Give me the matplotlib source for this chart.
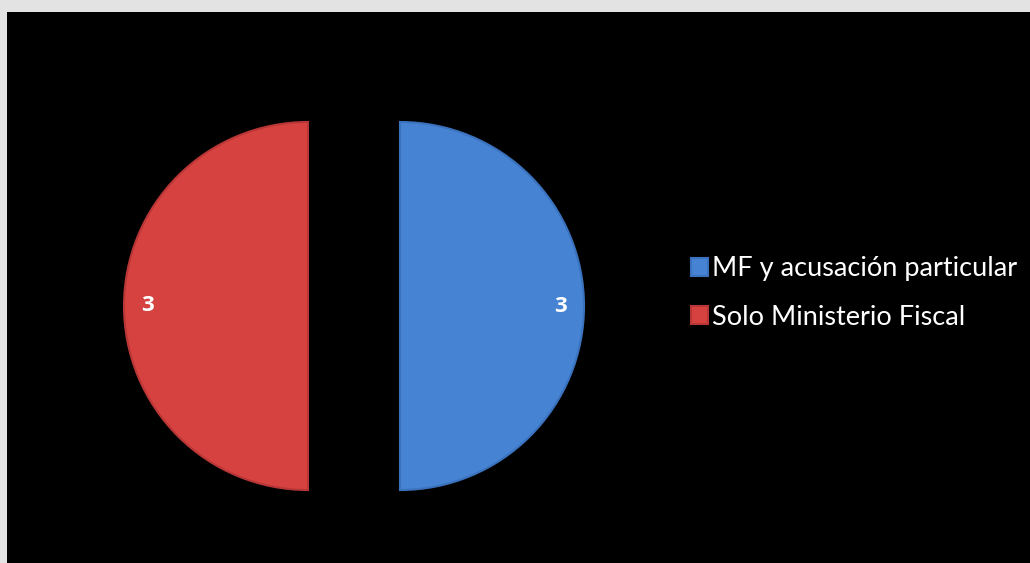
import matplotlib
matplotlib.use("Agg")
import matplotlib.pyplot as plt

# ── Data ───────────────────────────────────────────────────────────────────────
labels = ["MF y acusación particular", "Solo Ministerio Fiscal"]
values = [3, 3]
colors = ["#4683d2", "#d6423f"]
edge_colors = ["#3a72be", "#b83636"]

plt.rcParams["font.family"] = ["Lato", "DejaVu Sans"]

W, H = 1030, 563
fig = plt.figure(figsize=(W / 100, H / 100), dpi=100, facecolor="#e3e3e3")

# black chart area
bg = fig.add_axes([7 / W, 0, (W - 7) / W, (H - 12) / H])
bg.set_facecolor("black")
bg.set_xticks([]); bg.set_yticks([])
for s in bg.spines.values():
    s.set_visible(False)

# pie axes: centre (354, 306) px, radius 184 px
R, cx, cy = 184, 354, 306
lim = 1.4
side = 2 * lim * R
ax = fig.add_axes([(cx - side / 2) / W, (H - cy - side / 2) / H, side / W, side / H])

wedges, texts = ax.pie(values, colors=colors, startangle=90, counterclock=False,
                       explode=[0.25, 0.25], labels=[str(v) for v in values],
                       labeldistance=0.87, radius=1.0,
                       wedgeprops=dict(linewidth=1.5))
for w, ec in zip(wedges, edge_colors):
    w.set_edgecolor(ec)
for t in texts:
    t.set(color="white", fontsize=16, fontweight="bold", family="Open Sans",
          ha="center", va="center")
ax.set_aspect("auto")
ax.set_xlim(-lim, lim); ax.set_ylim(-lim, lim)
ax.axis("off")

leg = fig.legend(wedges, labels, loc="center left",
                 bbox_to_anchor=(667 / W, 1 - 293 / H), frameon=False,
                 fontsize=19.5, labelcolor="white", handlelength=0.6,
                 handleheight=0.6, handletextpad=0.15, labelspacing=0.85)

fig.savefig("out.png", dpi=100, facecolor=fig.get_facecolor())
